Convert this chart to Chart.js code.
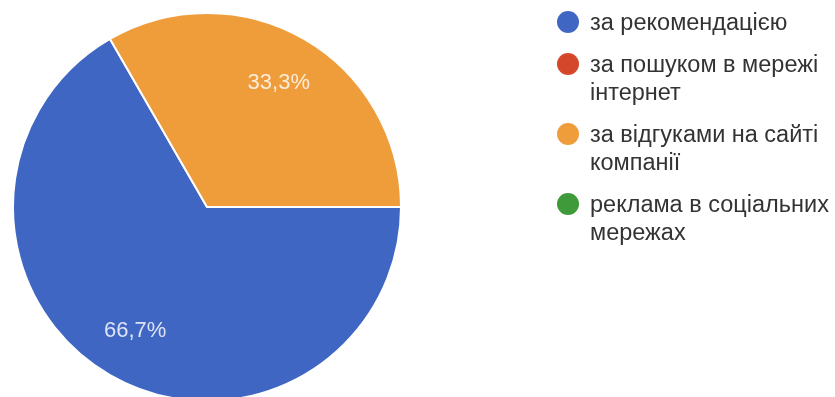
<!DOCTYPE html>
<html>
<head>
<meta charset="utf-8">
<script src="https://cdn.jsdelivr.net/npm/chart.js@4/dist/chart.umd.min.js"></script>
<style>
  html, body { margin: 0; padding: 0; background: #fff; overflow: hidden; }
  #wrap { position: relative; width: 835px; height: 397px; }
</style>
</head>
<body>
<div id="wrap"><canvas id="pieChart" width="835" height="397"></canvas></div>
<script>
/* ── дані ── */
const LABELS = [
  ['за рекомендацією'],
  ['за пошуком в мережі', 'інтернет'],
  ['за відгуками на сайті', 'компанії'],
  ['реклама в соціальних', 'мережах'],
];
const VALUES = [2, 0, 1, 0];
const COLORS = ['#4066c4', '#d4472b', '#ef9c3b', '#3f9a3a'];

const FONT = "'Liberation Sans', Arial, sans-serif";

/* підписи відсотків на секторах */
const pctLabels = {
  id: 'pctLabels',
  afterDatasetsDraw(chart) {
    const ctx = chart.ctx;
    const meta = chart.getDatasetMeta(0);
    const total = VALUES.reduce((a, b) => a + b, 0);
    ctx.save();
    ctx.font = '22px ' + FONT;
    ctx.fillStyle = 'rgba(255,255,255,0.82)';
    ctx.textAlign = 'center';
    ctx.textBaseline = 'middle';
    meta.data.forEach((arc, i) => {
      if (!VALUES[i]) return;
      const p = arc.getProps(['x', 'y', 'startAngle', 'endAngle', 'outerRadius'], true);
      const mid = (p.startAngle + p.endAngle) / 2;
      const r = p.outerRadius * 0.74;
      const txt = (VALUES[i] / total * 100).toFixed(1).replace('.', ',') + '%';
      ctx.fillText(txt, p.x + Math.cos(mid) * r, p.y + Math.sin(mid) * r);
    });
    ctx.restore();
  },
};

/* легенда праворуч з переносами рядків */
const sideLegend = {
  id: 'sideLegend',
  afterDraw(chart) {
    const ctx = chart.ctx;
    const x0 = 568, tx = 590, lineH = 28, gap = 14;
    let y = 24;
    ctx.save();
    ctx.font = '23.5px ' + FONT;
    ctx.textBaseline = 'middle';
    LABELS.forEach((lines, i) => {
      ctx.fillStyle = COLORS[i];
      ctx.beginPath();
      ctx.arc(x0, y - 2, 11, 0, Math.PI * 2);
      ctx.fill();
      ctx.fillStyle = '#333';
      lines.forEach((t, k) => ctx.fillText(t, tx, y + k * lineH));
      y += lines.length * lineH + gap;
    });
    ctx.restore();
  },
};

new Chart(document.getElementById('pieChart'), {
  type: 'pie',
  data: {
    labels: LABELS.map(l => l.join(' ')),
    datasets: [{
      data: VALUES,
      backgroundColor: COLORS,
      borderColor: '#fff',
      borderWidth: 2,
      clip: false,
    }],
  },
  options: {
    responsive: false,
    animation: false,
    rotation: 90,
    radius: 194,
    layout: { padding: { left: 13, top: 20, right: 434, bottom: 3 } },
    plugins: {
      legend: { display: false },
      tooltip: { enabled: false },
    },
  },
  plugins: [pctLabels, sideLegend],
});
</script>
</body>
</html>
